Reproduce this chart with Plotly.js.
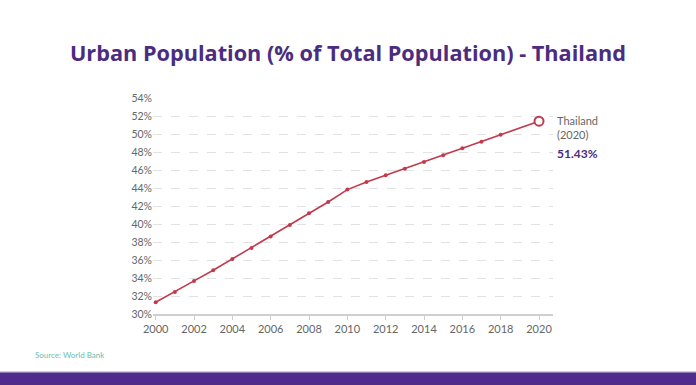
<!DOCTYPE html>
<html>
<head>
<meta charset="utf-8">
<script src="https://cdn.plot.ly/plotly-3.0.1.min.js"></script>
<style>html,body{margin:0;padding:0;background:#fff;}#chart{width:696px;height:385px;}</style>
</head>
<body>
<div id="chart"></div>
<script>
const years = [2000,2001,2002,2003,2004,2005,2006,2007,2008,2009,2010,2011,2012,2013,2014,2015,2016,2017,2018];
const urbanPct = [31.3,32.45,33.68,34.86,36.12,37.34,38.6,39.89,41.19,42.45,43.82,44.67,45.41,46.15,46.89,47.64,48.41,49.15,49.93];
const lastYear = [2020];
const lastValue = [51.43];
const countryName = "Thailand";
const titleText = "Urban Population (% of Total Population) - Thailand";
const sourceText = "Source: World Bank";

const lineColor = "#c23a4c";
const purple = "#4b2c7f";

const allX = years.concat(lastYear);
const allY = urbanPct.concat(lastValue);

const traces = [
  {x: allX, y: allY, type: "scatter", mode: "lines",
   line: {color: lineColor, width: 1.6}, hoverinfo: "skip"},
  {x: years, y: urbanPct, type: "scatter", mode: "markers",
   marker: {color: lineColor, size: 4}, hoverinfo: "skip"},
  {x: lastYear, y: lastValue, type: "scatter", mode: "markers",
   marker: {color: "#ffffff", size: 9, line: {color: lineColor, width: 2}}, hoverinfo: "skip"}
];

const layout = {
  width: 696, height: 385,
  margin: {l: 152.7, r: 142.7, t: 98, b: 71.3},
  paper_bgcolor: "#ffffff", plot_bgcolor: "#ffffff",
  showlegend: false,
  font: {family: "Lato, 'Open Sans', sans-serif", color: "#666"},
  title: {text: "<b>" + titleText + "</b>", x: 0.5, xanchor: "center", y: 0.862, yanchor: "middle",
          font: {family: "'Open Sans', sans-serif", size: 21.7, color: purple}},
  xaxis: {range: [1999.86, 2020.73], dtick: 2, tick0: 2000, showgrid: false, zeroline: false,
          showline: true, linecolor: "#cfcfcf", linewidth: 1.5,
          ticks: "outside", ticklen: 4, tickcolor: "#cfcfcf",
          tickfont: {size: 11, color: "#666"}, fixedrange: true},
  yaxis: {range: [30, 54], dtick: 2, tick0: 30, ticksuffix: "%", showgrid: true,
          gridcolor: "#e2e2e2", griddash: "dash", gridwidth: 1, zeroline: false,
          showline: false, ticks: "", tickfont: {size: 10.5, color: "#666"}, fixedrange: true},
  annotations: [
    {xref: "x", yref: "y", x: 2020, y: 51.43, xanchor: "left", yanchor: "middle", xshift: 16, yshift: 1,
     text: countryName, showarrow: false, align: "left", font: {size: 11, color: "#666"}},
    {xref: "x", yref: "y", x: 2020, y: 51.43, xanchor: "left", yanchor: "middle", xshift: 16, yshift: -13,
     text: "(" + lastYear[0] + ")", showarrow: false, align: "left", font: {size: 11, color: "#666"}},
    {xref: "x", yref: "y", x: 2020, y: 51.43, xanchor: "left", yanchor: "middle", xshift: 16, yshift: -32,
     text: "<b>" + lastValue[0].toFixed(2) + "%</b>", showarrow: false, align: "left", font: {size: 12, color: purple}},
    {xref: "paper", yref: "paper", x: -0.3, y: -0.19, xanchor: "left", yanchor: "middle",
     text: sourceText, showarrow: false, font: {size: 8, color: "#5fbfb3"}}
  ],
  shapes: [
    {type: "rect", xref: "paper", yref: "paper", x0: -0.5, x1: 1.5, y0: -0.27, y1: -0.5,
     fillcolor: "#4f2b8c", line: {width: 0}, layer: "below"},
    {type: "line", xref: "paper", yref: "paper", x0: -0.5, x1: 1.5, y0: -0.268, y1: -0.268,
     line: {color: "#b9a6d6", width: 1}}
  ]
};

Plotly.newPlot("chart", traces, layout, {displayModeBar: false, staticPlot: true});
</script>
</body>
</html>
